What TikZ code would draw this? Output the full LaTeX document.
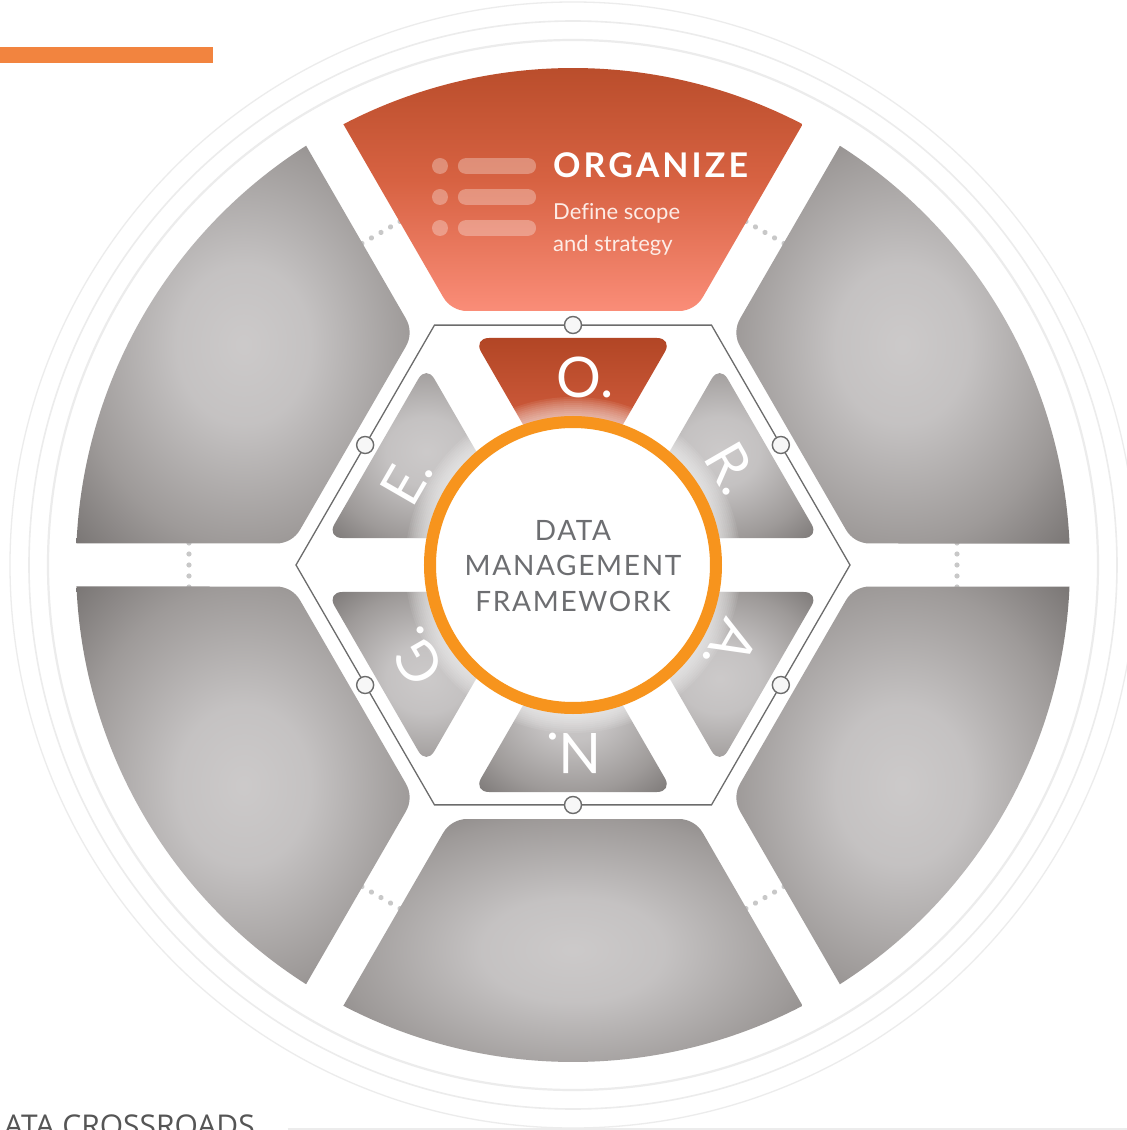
\documentclass[tikz,border=0pt]{standalone}
\usepackage{fontspec}
\setmainfont{Lato}
\newfontfamily\opensans{Open Sans}
\definecolor{barorange}{RGB}{242,132,63}
\definecolor{ringgray}{RGB}{236,236,236}
\definecolor{dotgray}{RGB}{200,200,200}
\definecolor{hexgray}{RGB}{108,108,108}
\definecolor{ringorange}{RGB}{247,148,29}
\definecolor{segtop}{RGB}{181,74,40}
\definecolor{segmid}{RGB}{215,98,66}
\definecolor{segbot}{RGB}{250,141,120}
\definecolor{tritop}{RGB}{178,70,37}
\definecolor{trimid}{RGB}{207,91,60}
\definecolor{tribot}{RGB}{222,106,76}
\definecolor{textgray}{RGB}{109,110,113}
\definecolor{footgray}{RGB}{85,85,85}
\definecolor{subwhite}{RGB}{253,236,230}
\pgfdeclareradialshading{segshade}{\pgfpoint{0bp}{0bp}}{rgb(0bp)=(0.80,0.79,0.79); rgb(10bp)=(0.77,0.76,0.76); rgb(25bp)=(0.62,0.605,0.60); rgb(36bp)=(0.47,0.455,0.45); rgb(50bp)=(0.47,0.455,0.45)}
\tikzset{
  graySeg/.style={shading=segshade},
  letter/.style={text=white, inner sep=0pt, anchor=center, font=\fontsize{56}{60}\selectfont},
  centertext/.style={anchor=base, inner sep=0pt, text=textgray, font=\fontsize{28}{34}\selectfont\addfontfeatures{LetterSpace=6}},
  subtext/.style={anchor=base west, inner sep=0pt, text=subwhite, font=\fontsize{22}{26}\selectfont\addfontfeatures{Ligatures=NoCommon}},
  iconpart/.style={fill=white, opacity=0.3},
  knob/.style={draw=hexgray, fill=gray!6, line width=1.4}
}
\begin{document}
\begin{tikzpicture}[x=1pt,y=1pt]
\useasboundingbox (-573,-565) rectangle (554,565);
\fill[white] (-573,-565) rectangle (554,565);
% top-left bar
\fill[barorange] (-573,502) rectangle (-360,518);
% faint outer rings
\foreach \r/\w in {525/2.2,544/1.6,563/1.3} \draw[draw=ringgray, line width=\w] (0,0) circle (\r);
% footer
\draw[ringgray, line width=3] (-285,-564.5) -- (554,-564.5);
\node[anchor=base west, inner sep=0pt, text=footgray, font=\opensans\fontsize{30}{34}\selectfont] (foot) at (-569,-571) {ATA CROSSROADS};
% dotted crossings in the gaps
\foreach \a in {0,60,...,300} \foreach \k in {-2,...,2} \fill[dotgray, rotate=\a] (384,\k*11) circle (2.6);
% big gray segments
\foreach \a in {30,150,210,270,330}
  \shade[graySeg, rotate=\a-90] (-105.82,254) -- (105.82,254) .. controls +(9.9,0) and +(-4.95,-8.57) .. (129.82,267.86) -- (229.65,440.75) arc[start angle=62.48, end angle=117.52, radius=497] -- (-129.82,267.86) .. controls +(4.95,-8.57) and +(-9.9,0) .. (-105.82,254) -- cycle;
% orange top segment
\shade[top color=segtop, bottom color=segbot, middle color=segmid] (-105.82,254) -- (105.82,254) .. controls +(9.9,0) and +(-4.95,-8.57) .. (129.82,267.86) -- (229.65,440.75) arc[start angle=62.48, end angle=117.52, radius=497] -- (-129.82,267.86) .. controls +(4.95,-8.57) and +(-9.9,0) .. (-105.82,254) -- cycle;
% list icon
\foreach \y in {399,368,337} {
  \fill[iconpart] (-133,\y) circle (8);
  \fill[iconpart, rounded corners=7.5] (-115,\y-7.8) rectangle (-37,\y+7.8);
}
\node[anchor=base west, inner sep=0pt, text=white, font=\fontsize{34}{40}\selectfont\bfseries\addfontfeatures{LetterSpace=9}] (org) at (-20,387) {ORGANIZE};
\node[subtext] (def1) at (-20,345) {Define scope};
\node[subtext] (def2) at (-20,313) {and strategy};
% inner triangles
\foreach \a in {-30,30,150,210,270}
  \shade[graySeg, rounded corners=16, rotate=\a-90] (-99.9,227) -- (99.9,227) -- (0,54) -- cycle;
\shade[top color=tritop, bottom color=tribot, middle color=trimid, rounded corners=16] (-99.9,227) -- (99.9,227) -- (0,54) -- cycle;
% hexagon outline and knobs
\draw[hexgray, line width=1.3] (0:277) -- (60:277) -- (120:277) -- (180:277) -- (240:277) -- (300:277) -- cycle;
\foreach \a in {30,90,...,330} \draw[knob] (\a:240) circle (8.5);
% soft halo and center circle
\foreach \r in {150,152,...,168} \fill[white, opacity=0.08] (0,0) circle (\r);
\draw[line width=12, draw=ringorange, fill=white] (0,0) circle (143);
\node[centertext] (cdata) at (0,25) {DATA};
\node[centertext] (cmgmt) at (0,-10) {MANAGEMENT};
\node[centertext] (cfw) at (0,-46) {FRAMEWORK};
% letters
\node[letter] (lO) at (12,188) {O.};
\node[letter, rotate=-60] (lR) at (159,97) {R.};
\node[letter, rotate=-120] (lA) at (158,-83) {A.};
\node[letter, rotate=180] (lN) at (1,-188) {N.};
\node[letter, rotate=120] (lG) at (-157,-92) {G.};
\node[letter, rotate=60] (lE) at (-166,85) {E.};
\end{tikzpicture}
\end{document}
